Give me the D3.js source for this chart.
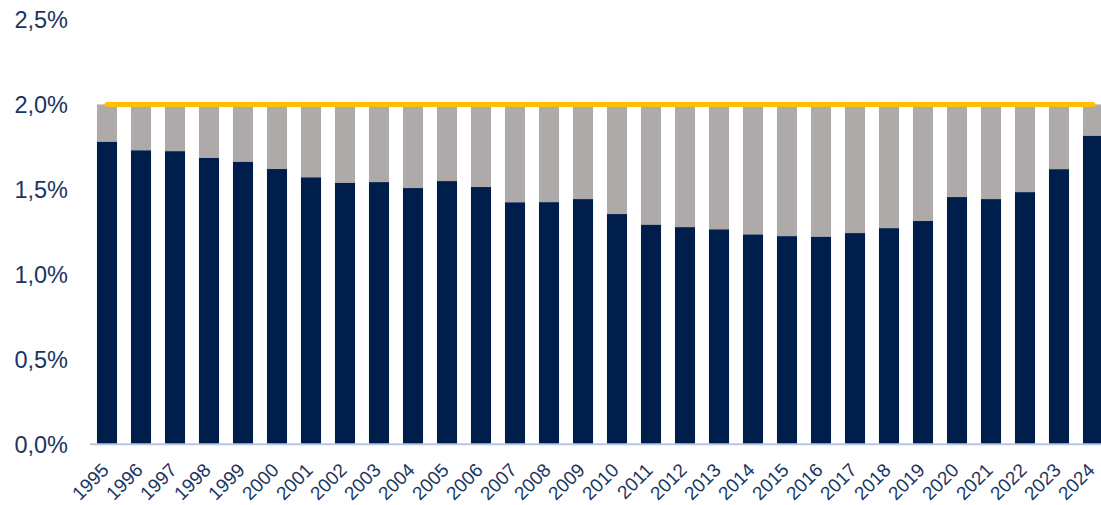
<!DOCTYPE html>
<html>
<head>
<meta charset="utf-8">
<script src="https://cdn.jsdelivr.net/npm/d3@7"></script>
<style>
  html, body { margin: 0; padding: 0; background: #fff; overflow: hidden; }
  svg text { font-family: "Liberation Sans", Arial, sans-serif; fill: #1c3461; }
</style>
</head>
<body>
<svg id="chart" width="1101" height="505"></svg>
<script>

/*********************/
/*** INIT VARIABLE ***/
/*********************/

// years on the x axis
let years = d3.range(1995, 2025).map(String);

// dark part of each bar, in %
let values = [1.78, 1.73, 1.725, 1.685, 1.662, 1.62, 1.571, 1.538, 1.543, 1.508,
              1.549, 1.514, 1.424, 1.425, 1.443, 1.355, 1.292, 1.278, 1.265, 1.235,
              1.225, 1.221, 1.243, 1.272, 1.314, 1.455, 1.443, 1.484, 1.619, 1.815];

// target level (grey fill up to it, yellow line on it)
let target = 2.0;

let yTicks = [0, 0.5, 1.0, 1.5, 2.0, 2.5];

let width = 1101, height = 505;

let svg = d3.select("#chart");

// create scales
let x = d3.scaleBand().domain(years).range([90, 1110])
    .paddingInner(0.41).paddingOuter(0.205);
let y = d3.scaleLinear().domain([0, 2.5]).range([444.3, 19.5]);

let fmt = d => d.toFixed(1).replace(".", ",") + "%";

/*******************/
/*** DRAW CHART ***/
/*******************/

// grey part (from value up to target)
svg.append("g").selectAll("rect")
    .data(values)
    .enter().append("rect")
    .attr("x", (d, i) => x(years[i]))
    .attr("y", y(target))
    .attr("width", x.bandwidth())
    .attr("height", d => y(d) - y(target))
    .attr("fill", "#adaaa9");

// dark part
svg.append("g").selectAll("rect")
    .data(values)
    .enter().append("rect")
    .attr("x", (d, i) => x(years[i]))
    .attr("y", d => y(d))
    .attr("width", x.bandwidth())
    .attr("height", d => y(0) - y(d))
    .attr("fill", "#001e4c");

// base line
svg.append("line")
    .attr("x1", 90).attr("x2", width)
    .attr("y1", y(0)).attr("y2", y(0))
    .attr("stroke", "#b4c7e7")
    .attr("stroke-width", 2);

// target line
svg.append("line")
    .attr("x1", x(years[0]) + x.bandwidth() / 2)
    .attr("x2", x(years[years.length - 1]) + x.bandwidth() / 2)
    .attr("y1", y(target)).attr("y2", y(target))
    .attr("stroke", "#ffc000")
    .attr("stroke-width", 5)
    .attr("stroke-linecap", "round");

// y axis labels
let yAxis = svg.append("g")
    .attr("transform", "translate(68,0)")
    .call(d3.axisLeft(y).tickValues(yTicks).tickFormat(fmt).tickSize(0).tickPadding(0));
yAxis.select(".domain").remove();
yAxis.selectAll("text")
    .attr("font-size", 23.5)
    .attr("dy", "0.35em");

// x axis labels
let xAxis = svg.append("g")
    .attr("transform", "translate(0," + y(0) + ")")
    .call(d3.axisBottom(x).tickSize(0).tickPadding(0));
xAxis.select(".domain").remove();
xAxis.selectAll("text")
    .attr("font-size", 19)
    .attr("text-anchor", "end")
    .attr("dy", null)
    .attr("y", 0)
    .attr("transform", "translate(3,27) rotate(-45)");

</script>
</body>
</html>
